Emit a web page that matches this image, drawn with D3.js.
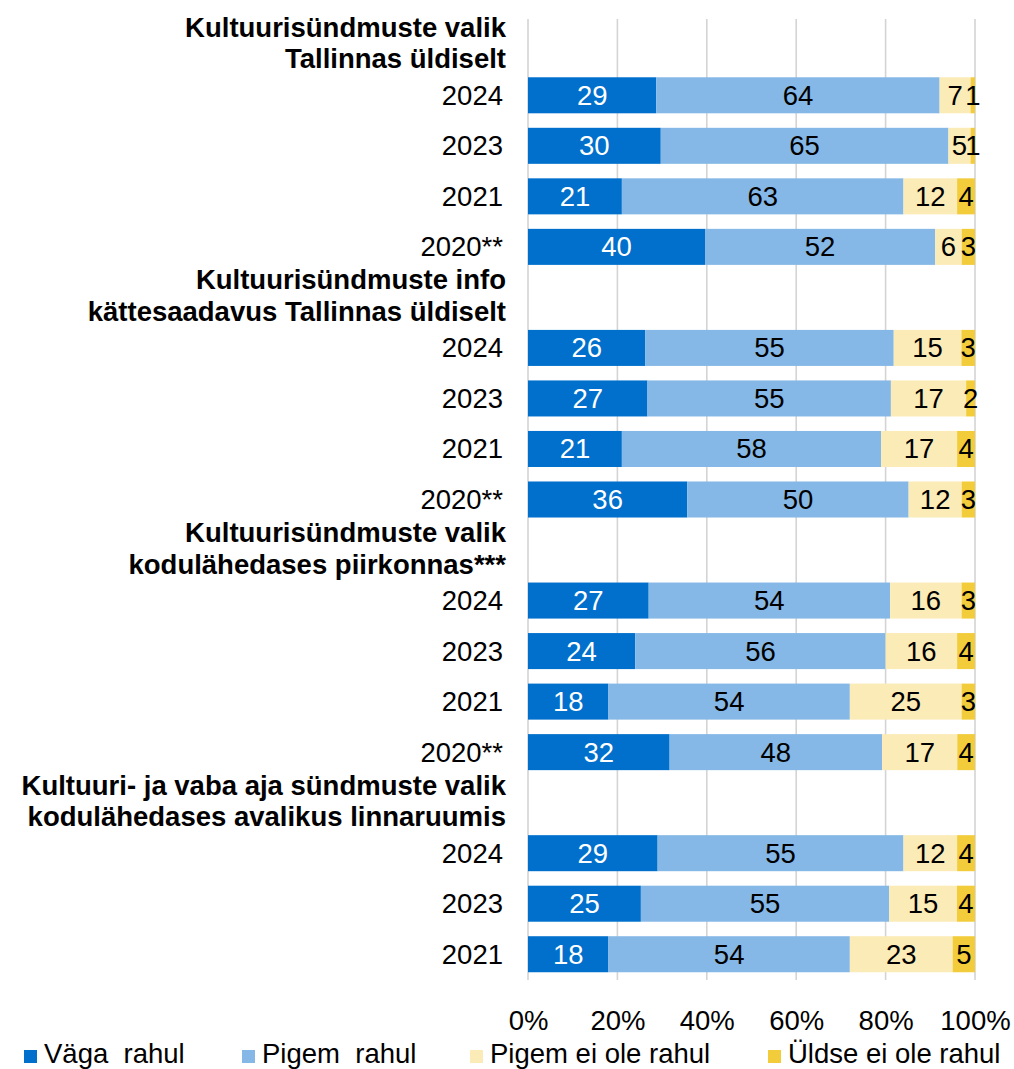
<!DOCTYPE html>
<html>
<head>
<meta charset="utf-8">
<script src="https://cdn.jsdelivr.net/npm/d3@7"></script>
<style>
  body { margin: 0; background: #fff; }
  svg { display: block; font-family: Arial, "Liberation Sans", sans-serif; }
</style>
</head>
<body>
<div id="chart"></div>
<script>
// data
const groupTitles = [
  ["Kultuurisündmuste valik", "Tallinnas üldiselt"],
  ["Kultuurisündmuste info", "kättesaadavus Tallinnas üldiselt"],
  ["Kultuurisündmuste valik", "kodulähedases piirkonnas***"],
  ["Kultuuri- ja vaba aja sündmuste valik", "kodulähedases avalikus linnaruumis"]
];
const groupYears = [
  ["2024", "2023", "2021", "2020**"],
  ["2024", "2023", "2021", "2020**"],
  ["2024", "2023", "2021", "2020**"],
  ["2024", "2023", "2021"]
];
const seriesNames = ["Väga  rahul", "Pigem  rahul", "Pigem ei ole rahul", "Üldse ei ole rahul"];
const vagaRahul  = [29, 30, 21, 40, 26, 27, 21, 36, 27, 24, 18, 32, 29, 25, 18];
const pigemRahul = [64, 65, 63, 52, 55, 55, 58, 50, 54, 56, 54, 48, 55, 55, 54];
const pigemEiOle = [7, 5, 12, 6, 15, 17, 17, 12, 16, 16, 25, 17, 12, 15, 23];
const uldseEiOle = [1, 1, 4, 3, 3, 2, 4, 3, 3, 4, 3, 4, 4, 4, 5];
const tickValues = [0, 20, 40, 60, 80, 100];

const colors = ["#0070cc", "#85b8e6", "#fbebb6", "#f2cc3a"];
const labelColors = ["#fff", "#000", "#000", "#000"];
const FS = 27.5;

const width = 1014, height = 1069;
const svg = d3.select('#chart').append('svg')
  .attr('width', width)
  .attr('height', height);

// build the row list: header row, then one row per year
const rows = [];
let k = 0;
groupTitles.forEach((title, g) => {
  rows.push({ id: 'h' + g, header: title });
  groupYears[g].forEach(year => {
    const vals = [vagaRahul[k], pigemRahul[k], pigemEiOle[k], uldseEiOle[k]];
    rows.push({ id: 'r' + k, year, vals });
    k++;
  });
});

const x = d3.scaleLinear().domain([0, 100]).range([528, 975]);
const y = d3.scaleBand()
  .domain(rows.map(d => d.id))
  .range([19.5, 979.5])
  .paddingInner(0.287)
  .paddingOuter(0.1435);

// gridlines
svg.append('g').selectAll('line')
  .data(tickValues)
  .enter().append('line')
  .attr('x1', d => x(d)).attr('x2', d => x(d))
  .attr('y1', 19).attr('y2', 980)
  .attr('stroke', '#d4d4d4')
  .attr('stroke-width', 1.6);

// segments, normalised to 100%
const segs = [];
rows.filter(r => r.vals).forEach(r => {
  const total = d3.sum(r.vals);
  let acc = 0;
  r.vals.forEach((v, i) => {
    const p = v / total * 100;
    segs.push({ id: r.id, i, v, x0: acc, x1: acc + p });
    acc += p;
  });
});

svg.append('g').selectAll('rect')
  .data(segs)
  .enter().append('rect')
  .attr('x', d => x(d.x0))
  .attr('width', d => x(d.x1) - x(d.x0))
  .attr('y', d => y(d.id))
  .attr('height', y.bandwidth())
  .attr('fill', d => colors[d.i]);

// value labels
svg.append('g').selectAll('text')
  .data(segs)
  .enter().append('text')
  .attr('text-anchor', 'middle')
  .attr('font-size', FS)
  .attr('fill', d => labelColors[d.i])
  .attr('x', d => (x(d.x0) + x(d.x1)) / 2)
  .attr('y', d => y(d.id) + y.bandwidth() / 2 + 9.5)
  .text(d => d.v);

// row labels
const left = svg.append('g');
rows.forEach(r => {
  const cy = y(r.id) + y.bandwidth() / 2;
  if (r.header) {
    r.header.forEach((line, j) => {
      left.append('text')
        .attr('text-anchor', 'end')
        .attr('font-size', FS)
        .attr('font-weight', 'bold')
        .attr('fill', '#000')
        .attr('x', 506)
        .attr('y', cy - 8 + j * 31.5)
        .text(line);
    });
  } else {
    left.append('text')
      .attr('text-anchor', 'end')
      .attr('font-size', FS)
      .attr('fill', '#000')
      .attr('x', 503)
      .attr('y', cy + 9.5)
      .text(r.year);
  }
});

// x axis labels
const axis = svg.append('g')
  .attr('transform', 'translate(0,1010)')
  .call(d3.axisBottom(x).tickValues(tickValues).tickFormat(d => d + '%').tickSize(0));
axis.select('.domain').remove();
axis.selectAll('text')
  .attr('font-size', FS)
  .attr('font-family', 'Arial, "Liberation Sans", sans-serif')
  .attr('fill', '#000')
  .attr('y', 0)
  .attr('dy', 20);

// legend
const legendX = [24, 242, 470, 768];
const legend = svg.append('g').selectAll('g')
  .data(seriesNames)
  .enter().append('g');
legend.append('rect')
  .attr('x', (d, i) => legendX[i])
  .attr('y', 1050)
  .attr('width', 13)
  .attr('height', 13)
  .attr('fill', (d, i) => colors[i]);
legend.append('text')
  .attr('font-size', FS)
  .attr('fill', '#000')
  .style('white-space', 'pre')
  .attr('x', (d, i) => legendX[i] + 20)
  .attr('y', 1063)
  .text(d => d);
</script>
</body>
</html>
